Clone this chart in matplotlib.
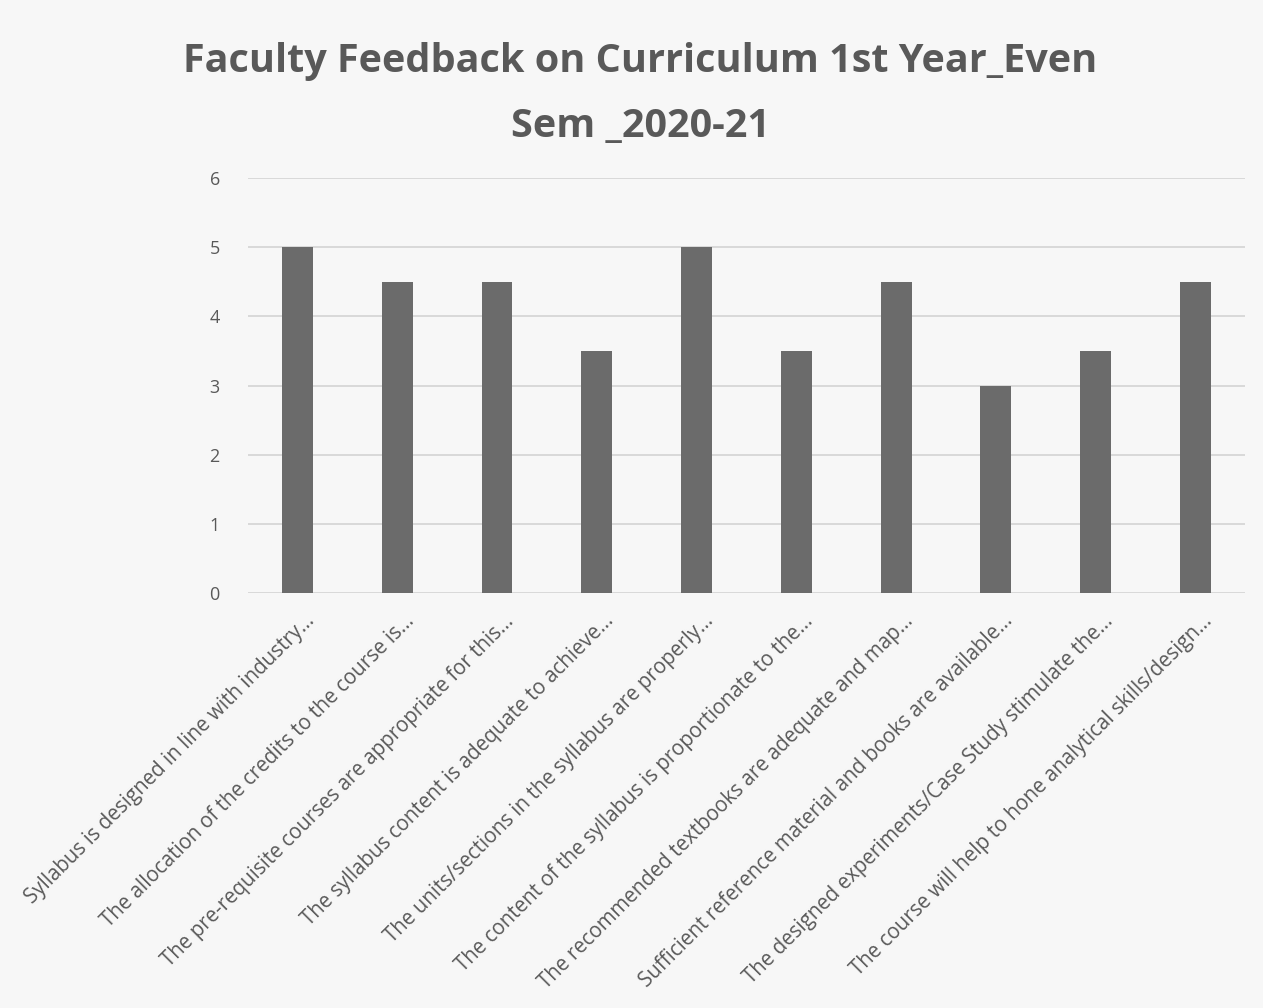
import numpy as np
import matplotlib
matplotlib.use("Agg")
import matplotlib.pyplot as plt
import matplotlib.transforms as mtransforms

# Data
labels = [
    "Syllabus is designed in line with industry...",
    "The allocation of the credits to the course is...",
    "The pre-requisite courses are appropriate for this...",
    "The syllabus content is adequate to achieve...",
    "The units/sections in the syllabus are properly...",
    "The content of the syllabus is proportionate to the...",
    "The recommended textbooks are adequate and map...",
    "Sufficient reference material and books are available...",
    "The designed experiments/Case Study stimulate the...",
    "The course will help to hone analytical skills/design...",
]
scores = [5, 4.5, 4.5, 3.5, 5, 3.5, 4.5, 3, 3.5, 4.5]
yticks = [0, 1, 2, 3, 4, 5, 6]
title = "Faculty Feedback on Curriculum 1st Year_Even\nSem _2020-21"

plt.rcParams['font.family'] = ['Open Sans', 'DejaVu Sans']
text_col = '#595959'

fig = plt.figure(figsize=(12.63, 10.08), dpi=100)
fig.patch.set_facecolor('#f7f7f7')
ax = fig.add_axes([0.196, 0.4117, 0.790, 0.4117])
ax.set_facecolor('#f7f7f7')

x = np.arange(len(labels))
ax.bar(x, scores, width=0.31, color='#6b6b6b', zorder=3)

# Axes styling
ax.set_xlim(-0.5, len(labels) - 0.5)
ax.set_ylim(0, 6)
ax.set_yticks(yticks)
ax.yaxis.grid(True, color='#d4d4d4', linewidth=1.2, zorder=0)
for s in ax.spines.values():
    s.set_visible(False)
ax.tick_params(axis='both', length=0)
ax.tick_params(axis='y', labelsize=13, labelcolor=text_col, pad=20)

ax.set_xticks(x)
ax.set_xticklabels(labels, rotation=45, ha='right', va='center',
                   rotation_mode='anchor', fontsize=14.8, color=text_col)
ax.tick_params(axis='x', pad=18)
offset = mtransforms.ScaledTranslation(14 / 100, 0, fig.dpi_scale_trans)
for lab in ax.get_xticklabels():
    lab.set_transform(lab.get_transform() + offset)

# Title
fig.text(0.507, 0.958, title, ha='center', va='top', fontsize=28.5,
         fontweight='bold', color=text_col, linespacing=1.85)

fig.savefig('out.png', dpi=100, facecolor=fig.get_facecolor())
